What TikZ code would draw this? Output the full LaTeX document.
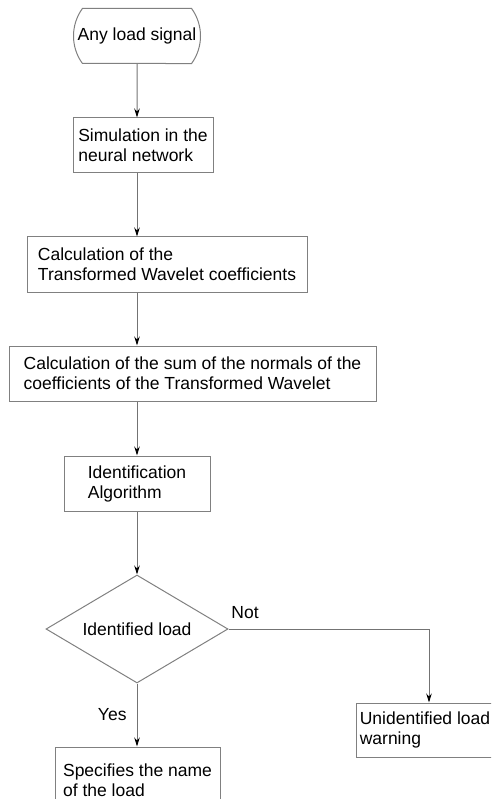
\documentclass[tikz,border=0pt]{standalone}
\usepackage{fontspec}
\setmainfont{Liberation Sans}
\usetikzlibrary{shapes.misc,shapes.geometric,arrows.meta}

\tikzset{
	box/.style={rectangle, draw=black!50, line width=1pt, align=left, inner sep=0pt, font=\fontsize{17.5}{20}\selectfont},
	arr/.style={draw=black!55, line width=1pt, -{Stealth[length=9pt,width=5.5pt,black]}},
	lbl/.style={font=\fontsize{17.5}{20}\selectfont, inner sep=0pt}
}

\begin{document}
\begin{tikzpicture}[x=1pt,y=1pt]
		\clip (0,0) rectangle (491,-799);
		\node (start) at (137,-36) [rounded rectangle, rounded rectangle arc length=72, draw=black!50, line width=1pt, minimum width=127pt, minimum height=55pt, inner sep=0pt, font=\fontsize{17.5}{20}\selectfont] {Any load signal};
		\node (sim) at (143,-145.5) [box, minimum width=140pt, minimum height=55pt] {Simulation in the\\neural network};
		\node (calc) at (167,-264.5) [box, minimum width=280pt, minimum height=55pt] {Calculation of the\\Transformed Wavelet coefficients};
		\node (sum) at (192.5,-373.5) [box, minimum width=367pt, minimum height=55pt] {Calculation of the sum of the normals of the\\coefficients of the Transformed Wavelet};
		\node (alg) at (137,-483.5) [box, minimum width=146pt, minimum height=55pt] {Identification\\Algorithm};
		\node (dec) at (137,-629) [diamond, draw=black!50, line width=1pt, aspect=1.685, minimum width=182pt, minimum height=108pt, inner sep=0pt, font=\fontsize{17.5}{20}\selectfont] {Identified load};
		\node (spec) at (137.5,-780) [box, minimum width=165pt, minimum height=66pt] {Specifies the name\\of the load};
		\node (warn) at (425,-730) [box, minimum width=138pt, minimum height=54pt] {Unidentified load\\warning};
		\coordinate (turn) at (429,-629);
		
		\draw[arr] (start) -- (start |- sim.north);
		\draw[arr] (sim.south -| start) -- (calc.north -| start);
		\draw[arr] (calc.south -| start) -- (sum.north -| start);
		\draw[arr] (sum.south -| start) -- (alg.north);
		\draw[arr] (alg) -- (dec.north);
		\draw[arr] (dec.south) -- (dec.south |- spec.north) node[lbl, midway, left=10pt] {Yes};
		\draw[arr] (dec.east) -- (turn) -- (turn |- warn.north);
		\node at (245,-613) [lbl] {Not};
	\end{tikzpicture}
\end{document}
